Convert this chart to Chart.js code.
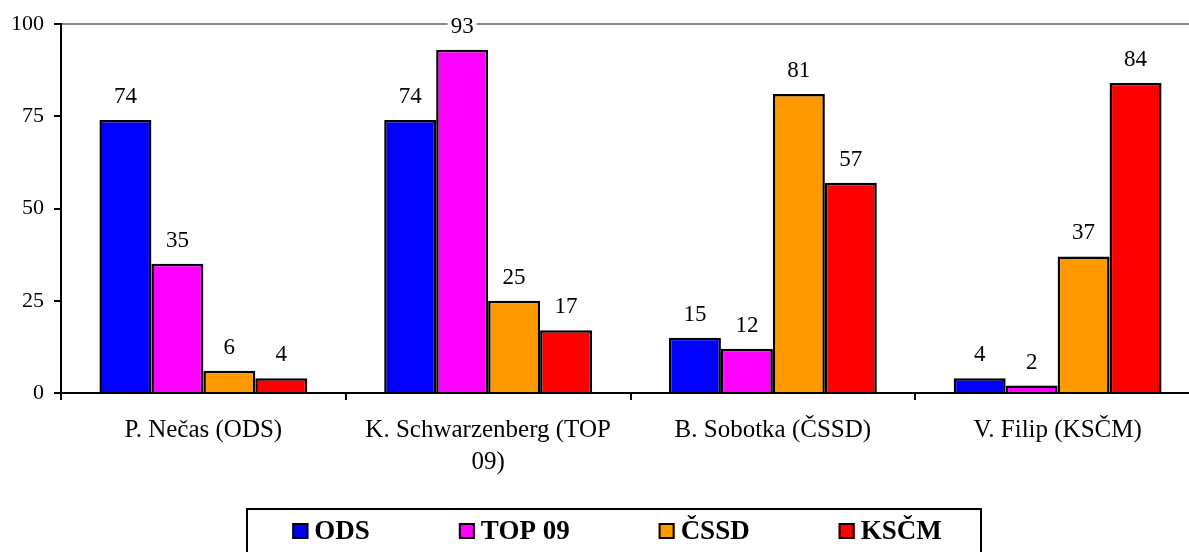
<!DOCTYPE html>
<html>
<head>
<meta charset="utf-8">
<script src="https://cdn.jsdelivr.net/npm/chart.js@4.4.1/dist/chart.umd.min.js"></script>
<style>
  html, body { margin: 0; padding: 0; background: #fff; overflow: hidden; }
  #wrap { width: 1202px; height: 560px; }
</style>
</head>
<body>
<div id="wrap"><canvas id="myChart" width="1202" height="560"></canvas></div>
<script>
const categories = [
  ['P. Nečas (ODS)'],
  ['K. Schwarzenberg (TOP', '09)'],
  ['B. Sobotka (ČSSD)'],
  ['V. Filip (KSČM)']
];
const seriesNames = ['ODS', 'TOP 09', 'ČSSD', 'KSČM'];
const odsValues = [74, 74, 15, 4];
const top09Values = [35, 93, 12, 2];
const cssdValues = [6, 25, 81, 37];
const kscmValues = [4, 17, 57, 84];
const seriesColors = ['#0000FF', '#FF00FF', '#FF9900', '#FF0000'];
const yTicks = [0, 25, 50, 75, 100];

const FONT = "'Liberation Serif', 'Times New Roman', serif";

// numbers above each bar, on a white patch so the top gridline breaks around them
const valueLabels = {
  id: 'valueLabels',
  afterDatasetsDraw(chart) {
    const ctx = chart.ctx;
    ctx.save();
    ctx.font = '23px ' + FONT;
    ctx.textAlign = 'center';
    ctx.textBaseline = 'alphabetic';
    chart.data.datasets.forEach((ds, i) => {
      const meta = chart.getDatasetMeta(i);
      meta.data.forEach((bar, j) => {
        const txt = String(ds.data[j]);
        const w = ctx.measureText(txt).width;
        const base = bar.y - 17;
        ctx.fillStyle = '#fff';
        ctx.fillRect(bar.x - w / 2 - 3, base - 17, w + 6, 19);
        ctx.fillStyle = '#000';
        ctx.fillText(txt, bar.x, base);
      });
    });
    ctx.restore();
  }
};

// boxed legend below the axis
const boxLegend = {
  id: 'boxLegend',
  afterDraw(chart) {
    const ctx = chart.ctx;
    ctx.save();
    const boxL = 247, boxR = 981, boxT = 509, boxB = 553;
    ctx.strokeStyle = '#000';
    ctx.lineWidth = 2;
    ctx.strokeRect(boxL, boxT, boxR - boxL, boxB - boxT);

    ctx.font = 'bold 27px ' + FONT;
    ctx.textBaseline = 'middle';
    ctx.textAlign = 'left';
    const sw = 16, gap = 6, spacing = 89;
    const widths = seriesNames.map(n => sw + gap + ctx.measureText(n).width);
    const total = widths.reduce((a, b) => a + b, 0) + spacing * (widths.length - 1);
    let x = (boxL + boxR) / 2 - total / 2 + 3;
    const cy = 531;
    seriesNames.forEach((name, i) => {
      ctx.fillStyle = seriesColors[i];
      ctx.fillRect(x, cy - sw / 2, sw, sw);
      ctx.strokeRect(x + 1, cy - sw / 2 + 1, sw - 2, sw - 2);
      ctx.fillStyle = '#000';
      ctx.fillText(name, x + sw + gap, cy + 1);
      x += widths[i] + spacing;
    });
    ctx.restore();
  }
};

const seriesValues = [odsValues, top09Values, cssdValues, kscmValues];
const datasets = seriesNames.map((name, i) => ({
  label: name,
  data: seriesValues[i],
  backgroundColor: seriesColors[i],
  borderColor: '#000',
  borderWidth: 2.5,
  categoryPercentage: 0.73,
  barPercentage: 1.0
}));

new Chart(document.getElementById('myChart'), {
  type: 'bar',
  data: { labels: categories, datasets },
  plugins: [valueLabels, boxLegend],
  options: {
    responsive: false,
    animation: false,
    layout: { padding: { top: 24, left: 0, right: 2, bottom: 0 } },
    plugins: { legend: { display: false }, tooltip: { enabled: false } },
    scales: {
      x: {
        grid: { offset: true, drawOnChartArea: false, color: '#000', lineWidth: 2, tickLength: 7 },
        border: { display: true, color: '#000', width: 2 },
        ticks: { color: '#000', font: { family: FONT, size: 25, lineHeight: 1.3 }, padding: 14, maxRotation: 0, autoSkip: false },
        afterFit(scale) { scale.height = 167; }
      },
      y: {
        min: 0,
        max: 100,
        afterBuildTicks(scale) { scale.ticks = yTicks.map(v => ({ value: v })); },
        grid: {
          color: c => (c.tick && c.tick.value === 100 ? '#888' : 'rgba(0,0,0,0)'),
          lineWidth: 2,
          tickColor: '#000',
          tickLength: 7
        },
        border: { display: true, color: '#000', width: 2 },
        ticks: { color: '#000', font: { family: FONT, size: 22 }, padding: 10 },
        afterFit(scale) { scale.width = 61; }
      }
    }
  }
});
</script>
</body>
</html>
